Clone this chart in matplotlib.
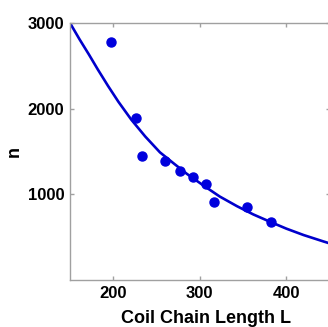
import numpy as np
import matplotlib
matplotlib.use('Agg')
import matplotlib.pyplot as plt

plt.rcParams['font.family'] = ['Liberation Sans', 'DejaVu Sans']

# measured points
chain_len = [197, 226, 233, 260, 277, 292, 307, 316, 355, 382]
n_vals = [2780, 1890, 1450, 1385, 1275, 1205, 1115, 915, 850, 680]

# fitted curve
curve_L = [150, 161, 172, 182, 194, 206, 221, 237, 254, 270, 285,
           304, 323, 343, 362, 381, 400, 420, 443, 450]
curve_n = [3000, 2810, 2630, 2460, 2265, 2080, 1870, 1675, 1490, 1360, 1240,
           1105, 975, 862, 765, 681, 600, 525, 450, 428]

fig = plt.figure(figsize=(3.28, 3.27), dpi=100)
ax = fig.add_axes([70/328, 47/327, 259.5/328, 257/327])

ax.plot(curve_L, curve_n, color='#0000cc', lw=1.9, zorder=2,
        solid_joinstyle='round')
ax.plot(chain_len, n_vals, 'o', color='#0000dd', ms=6.5, zorder=3)

ax.set_xlim(150, 450)
ax.set_ylim(0, 3000)
ax.set_xticks([200, 300, 400])
ax.set_yticks([1000, 2000, 3000])

for s in ax.spines.values():
    s.set_color('#a0a0a0')
    s.set_linewidth(1.0)

ax.tick_params(direction='in', length=3, width=1, color='#a0a0a0',
               top=True, right=True, labelsize=12, pad=4)
for lab in ax.get_xticklabels() + ax.get_yticklabels():
    lab.set_fontweight('bold')

ax.set_xlabel('Coil Chain Length L', fontsize=13, fontweight='bold', va='center')
ax.set_ylabel('n', fontsize=13, fontweight='bold', va='center')
ax.xaxis.set_label_coords(0.525, -0.148)
ax.yaxis.set_label_coords(-0.215, 0.5)

fig.savefig('out.png', dpi=100)
